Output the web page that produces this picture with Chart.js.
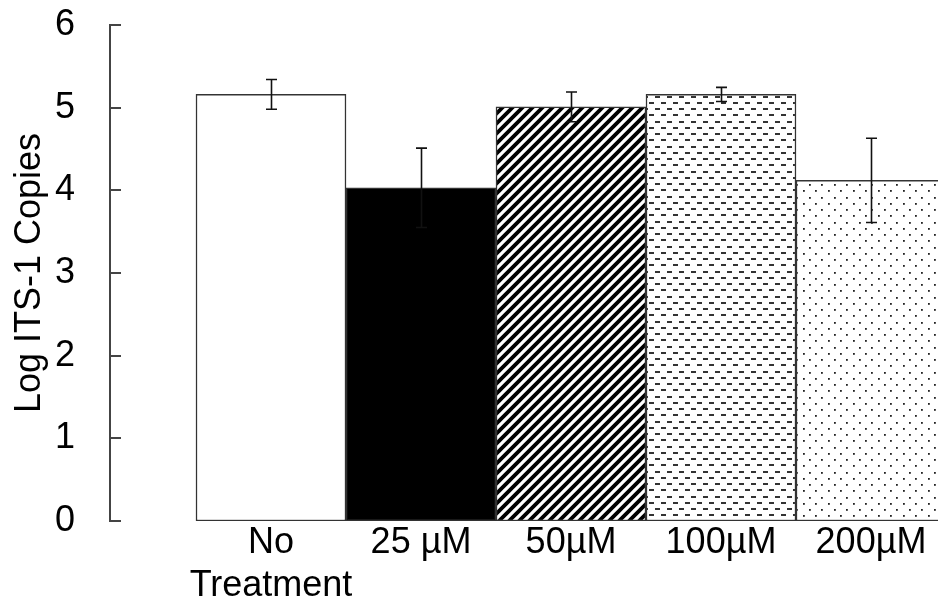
<!DOCTYPE html>
<html><head><meta charset="utf-8">
<script src="https://cdn.jsdelivr.net/npm/chart.js@4/dist/chart.umd.min.js"></script>
<style>html,body{margin:0;padding:0;background:#fff}#wrap{width:938px;height:602px}</style>
</head><body><div id="wrap"><canvas id="c" width="938" height="602"></canvas></div>
<script>
// ---- data ----
const categories = [['No', 'Treatment'], '25 µM', '50µM', '100µM', '200µM'];
const positions = [0, 1, 2, 3, 4];
const means = [5.16, 4.03, 5.01, 5.16, 4.12];
const errors = [0.18, 0.48, 0.18, 0.085, 0.51];
const yTicks = [0, 1, 2, 3, 4, 5, 6];
const yTitle = 'Log ITS-1 Copies';

const FONT = '"Liberation Sans", Arial, sans-serif';

// ---- fill patterns ----
function makeTile(w, h, draw) {
  const c = document.createElement('canvas');
  c.width = w; c.height = h;
  const g = c.getContext('2d');
  g.fillStyle = '#fff'; g.fillRect(0, 0, w, h);
  draw(g, w, h);
  return document.getElementById('c').getContext('2d').createPattern(c, 'repeat');
}
const stripes = makeTile(10, 10, (g, s) => {
  g.strokeStyle = '#000'; g.lineWidth = 3.8; g.lineCap = 'square';
  g.beginPath();
  g.moveTo(-2, 2); g.lineTo(2, -2);
  g.moveTo(0, s); g.lineTo(s, 0);
  g.moveTo(s - 2, s + 2); g.lineTo(s + 2, s - 2);
  g.stroke();
});
const dashes = makeTile(12, 25, (g) => {
  g.fillStyle = '#333';
  const rows = [2, 8, 14, 21];
  rows.forEach((y, r) => {
    const x0 = (r % 2 === 0) ? 1 : 7;
    g.fillRect(x0, y, 5, 2);
  });
});
const dots = makeTile(25, 25, (g) => {
  g.fillStyle = '#222';
  const rows = [3, 9, 15, 22];
  rows.forEach((y, r) => {
    const off = (r % 2 === 0) ? 3 : 9;
    g.fillRect(off, y, 1.8, 1.8);
    g.fillRect(off + 12.5 | 0, y, 1.8, 1.8);
  });
});
const fills = ['#ffffff', '#000000', stripes, dashes, dots];

// ---- plugins ----
const axisDecor = {
  id: 'axisDecor',
  afterDatasetsDraw(chart) {
    const ctx = chart.ctx, xs = chart.scales.x, ys = chart.scales.y;
    ctx.save();
    // inward ticks on y axis
    ctx.strokeStyle = '#444'; ctx.lineWidth = 2;
    ctx.beginPath();
    yTicks.forEach(v => {
      const y = Math.round(ys.getPixelForValue(v));
      ctx.moveTo(chart.chartArea.left, y);
      ctx.lineTo(chart.chartArea.left + 11, y);
    });
    ctx.stroke();
    // error bars
    ctx.strokeStyle = '#111'; ctx.lineWidth = 1.6;
    ctx.beginPath();
    positions.forEach((p, i) => {
      const x = Math.round(xs.getPixelForValue(p)) + 0.5;
      const yt = ys.getPixelForValue(means[i] + errors[i]);
      const yb = ys.getPixelForValue(means[i] - errors[i]);
      ctx.moveTo(x, yt); ctx.lineTo(x, yb);
      ctx.moveTo(x - 5.5, yt); ctx.lineTo(x + 5.5, yt);
      ctx.moveTo(x - 5.5, yb); ctx.lineTo(x + 5.5, yb);
    });
    ctx.stroke();
    ctx.restore();
  }
};

new Chart(document.getElementById('c'), {
  type: 'bar',
  data: {
    datasets: [{
      data: positions.map((p, i) => ({ x: p, y: means[i] })),
      backgroundColor: fills,
      borderColor: '#333',
      borderWidth: 1.5,
      borderSkipped: false,
      barPercentage: 1,
      categoryPercentage: 1
    }]
  },
  options: {
    responsive: false,
    animation: false,
    devicePixelRatio: 1,
    layout: { padding: { top: 25, left: 0, right: 0, bottom: 0 } },
    plugins: { legend: { display: false }, tooltip: { enabled: false } },
    scales: {
      x: {
        type: 'linear',
        offset: false,
        min: -1.0733,
        max: 4.4467,
        grid: { display: false, drawTicks: false, offset: false },
        border: { display: false },
        afterBuildTicks: s => { s.ticks = positions.map(v => ({ value: v })); },
        afterFit: s => { s.height = 81; },
        ticks: {
          autoSkip: false, maxRotation: 0, minRotation: 0, padding: 0,
          color: '#000', font: { family: FONT, size: 36 },
          callback: (v, i) => categories[i]
        }
      },
      y: {
        min: 0, max: 6,
        afterBuildTicks: s => { s.ticks = yTicks.map(v => ({ value: v })); },
        afterFit: s => { s.width = 110; },
        grid: { display: false, drawTicks: true, tickLength: 35 },
        border: { display: true, color: '#444', width: 2 },
        ticks: { padding: 0, color: '#000', font: { family: FONT, size: 36 } },
        title: {
          display: true, text: yTitle, color: '#000',
          font: { family: FONT, size: 36 },
          padding: { top: 8, bottom: 0 }
        }
      }
    }
  },
  plugins: [axisDecor]
});
</script>
</body></html>
